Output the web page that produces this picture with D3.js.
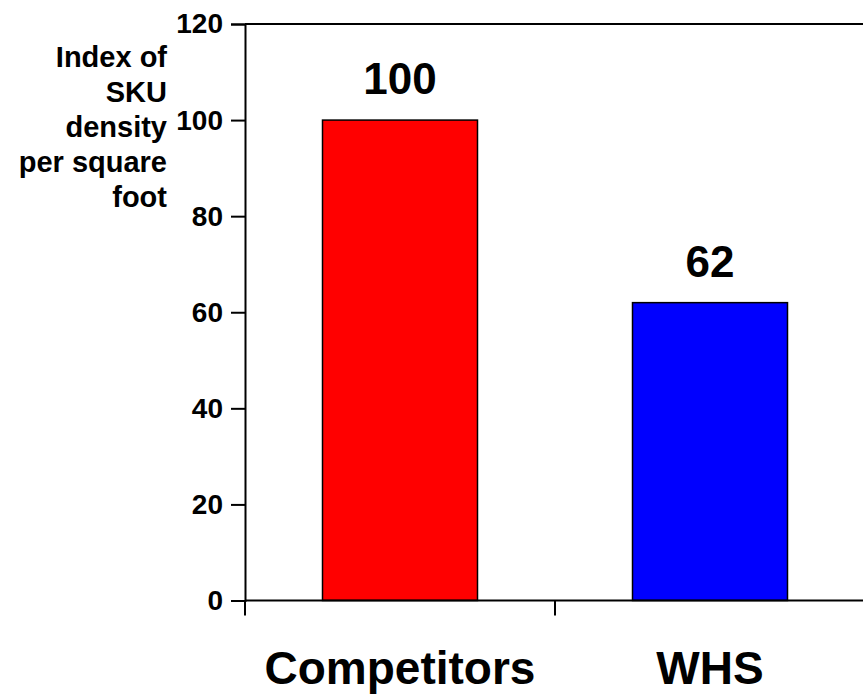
<!DOCTYPE html>
<html>
<head>
<meta charset="utf-8">
<script src="https://cdn.jsdelivr.net/npm/d3@7"></script>
<style>
  html, body { margin: 0; padding: 0; background: #fff; }
  svg { display: block; font-family: "Liberation Sans", Arial, sans-serif; font-weight: bold; }
</style>
</head>
<body>
<svg id="chart" width="863" height="694"></svg>
<script>
// Chart data
const categories = ["Competitors", "WHS"];
const values = [100, 62];
const barColors = ["#ff0000", "#0000ff"];
const yTicks = [0, 20, 40, 60, 80, 100, 120];
const yLabelLines = ["Index of", "SKU", "density", "per square", "foot"];

const svg = d3.select("#chart");

// Plot area
const plotLeft = 245, plotRight = 865, plotTop = 24, plotBottom = 600.5;

const x = d3.scaleBand().domain(categories).range([plotLeft, plotRight]).padding(0);
const y = d3.scaleLinear().domain([0, 120]).range([plotBottom, plotTop]);

// Frame top line
svg.append("line")
  .attr("x1", plotLeft).attr("x2", plotRight)
  .attr("y1", plotTop).attr("y2", plotTop)
  .attr("stroke", "#000").attr("stroke-width", 2);

// Bars
const barW = x.bandwidth() * 0.5;
svg.selectAll("rect.bar")
  .data(categories)
  .join("rect")
  .attr("class", "bar")
  .attr("x", d => x(d) + (x.bandwidth() - barW) / 2)
  .attr("y", (d, i) => y(values[i]))
  .attr("width", barW)
  .attr("height", (d, i) => y(0) - y(values[i]))
  .attr("fill", (d, i) => barColors[i])
  .attr("stroke", "#000")
  .attr("stroke-width", 1.5);

// Value labels
svg.selectAll("text.val")
  .data(categories)
  .join("text")
  .attr("class", "val")
  .attr("x", d => x(d) + x.bandwidth() / 2)
  .attr("y", (d, i) => y(values[i]) - 26)
  .attr("text-anchor", "middle")
  .attr("font-size", 44)
  .attr("fill", "#000")
  .text((d, i) => values[i]);

// Y axis
const yAxis = d3.axisLeft(y).tickValues(yTicks).tickSize(14).tickPadding(8);
const gy = svg.append("g").attr("transform", `translate(${plotLeft},0)`).call(yAxis);
gy.select(".domain").attr("stroke", "#000").attr("stroke-width", 2);
gy.selectAll(".tick line").attr("stroke", "#000").attr("stroke-width", 2);
gy.selectAll(".tick text")
  .attr("font-size", 28)
  .attr("font-family", "'Liberation Sans', Arial, sans-serif")
  .attr("font-weight", "bold")
  .attr("fill", "#000");

// X axis baseline with category boundary ticks
svg.append("line")
  .attr("x1", plotLeft).attr("x2", plotRight)
  .attr("y1", plotBottom).attr("y2", plotBottom)
  .attr("stroke", "#000").attr("stroke-width", 2);
const boundaries = categories.map(d => x(d)).concat([x(categories[categories.length - 1]) + x.bandwidth()]);
svg.selectAll("line.xtick")
  .data(boundaries)
  .join("line")
  .attr("class", "xtick")
  .attr("x1", d => d).attr("x2", d => d)
  .attr("y1", plotBottom).attr("y2", plotBottom + 15)
  .attr("stroke", "#000").attr("stroke-width", 2);

// Category labels
svg.selectAll("text.cat")
  .data(categories)
  .join("text")
  .attr("class", "cat")
  .attr("x", d => x(d) + x.bandwidth() / 2)
  .attr("y", 684)
  .attr("text-anchor", "middle")
  .attr("font-size", 46)
  .attr("fill", "#000")
  .text(d => d);

// Y axis title, right-aligned block
svg.append("text")
  .attr("text-anchor", "end")
  .attr("font-size", 29)
  .attr("fill", "#000")
  .selectAll("tspan")
  .data(yLabelLines)
  .join("tspan")
  .attr("x", 167)
  .attr("y", (d, i) => 66.5 + i * 35)
  .text(d => d);
</script>
</body>
</html>
